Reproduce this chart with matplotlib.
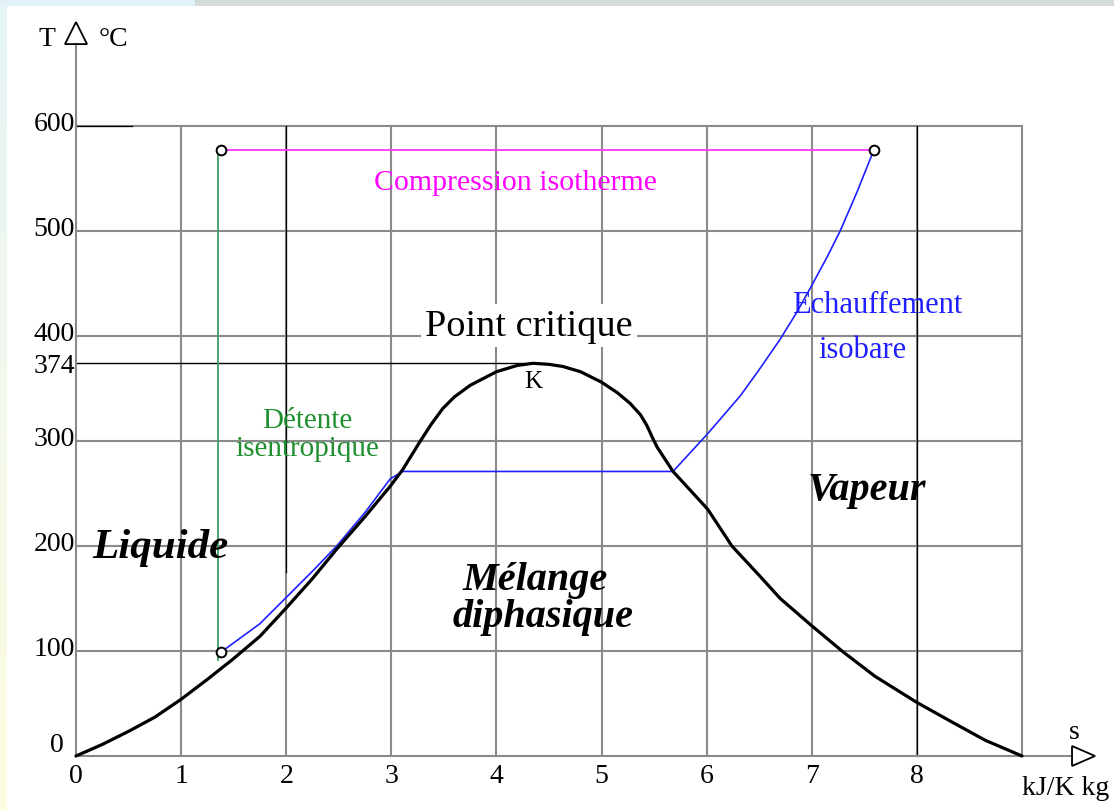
import numpy as np
import matplotlib
matplotlib.use("Agg")
import matplotlib.pyplot as plt
from matplotlib.patches import Polygon

# saturation dome of water, s [kJ/K kg] vs T [degC]
dome_s = [0, 0.25, 0.51, 0.75, 1.0, 1.25, 1.49, 1.75, 2.0, 2.25, 2.48, 2.75, 2.99, 3.11,
          3.27, 3.38, 3.49, 3.6, 3.75, 4.0, 4.2, 4.35, 4.5, 4.63, 4.8, 5.0, 5.15, 5.27,
          5.37, 5.43, 5.49, 5.53, 5.68, 6.01, 6.24, 6.5, 6.7, 7.0, 7.3, 7.6, 8.0, 8.34, 8.65, 9.0]
dome_T = [0, 11, 24, 37, 54, 73, 92, 114, 141, 169, 197, 228, 257, 273,
          299, 316, 331, 342, 353, 366, 372, 374, 373, 371, 366, 356, 346, 336,
          325, 315, 302, 294, 271, 235, 200, 172, 150, 124, 99, 76, 51, 32, 15, 0]

# isobaric heating: liquid -> boiling -> superheated vapour
isobar_s = [1.38, 1.75, 2.0, 2.25, 2.48, 2.75, 2.99, 3.11, 5.68, 6.01, 6.32, 6.5, 6.7,
            6.86, 7.01, 7.15, 7.27, 7.43, 7.55, 7.59]
isobar_T = [99, 126, 151, 176, 200, 232, 264, 271, 271, 307, 343, 368, 397,
            423, 450, 476, 500, 537, 567, 577]

# isothermal compression and isentropic expansion closing the cycle
iso_T = 577
iso_s = [1.38, 7.59]
detente_s = 1.35
detente_T = [91, 577]
cycle_pts_s = [1.38, 1.38, 7.59]
cycle_pts_T = [99, 577, 577]

T_crit = 374
s_crit = 4.35

s_ticks = [0, 1, 2, 3, 4, 5, 6, 7, 8]
T_ticks = [100, 200, 300, 400, 500, 600]
T_labels = ["100", "200", "300", "400", "500", "600"]

GREY = "#8a8a8a"
SERIF = ["Liberation Serif", "DejaVu Serif"]

fig = plt.figure(figsize=(11.14, 8.12), dpi=100)

# slide border: thin tinted strips on the left and top
bg = np.ones((812, 1114, 3))
grad = np.linspace(0, 1, 812)[:, None, None]
bg[:, :7] = (1 - grad) * np.array([0.90, 0.96, 0.97]) + grad * np.array([1.0, 0.99, 0.88])
bg[:7, :] = np.array([0.83, 0.86, 0.86])
bg[:7, :195] = np.array([0.89, 0.95, 0.97])
bg_ax = fig.add_axes([0, 0, 1, 1], zorder=-2)
bg_ax.imshow(bg, aspect="auto", interpolation="nearest")
bg_ax.set_axis_off()

ax = fig.add_axes([0, 0, 1, 1])
ax.patch.set_alpha(0)
ax.set_xlim(-76 / 105.11, (1114 - 76) / 105.11)
ax.set_ylim(-55 / 1.05, 757 / 1.05)
ax.set_axis_off()

# grid
for s in range(1, 10):
    ax.plot([s, s], [0, 600], color=GREY, lw=1.5, zorder=1)
for T in T_ticks:
    ax.plot([0, 9], [T, T], color=GREY, lw=1.5, zorder=1)
ax.plot([2, 2], [175, 600], color="black", lw=0.9, zorder=1.5)
ax.plot([8, 8], [0, 600], color="black", lw=0.9, zorder=1.5)
ax.plot([0, 0.53], [600, 600], color="black", lw=0.9, zorder=1.5)
ax.plot([0, s_crit], [T_crit, T_crit], color="black", lw=1.0, zorder=1.5)

# axes with open arrow heads
ax.plot([0, 0], [0, 678], color=GREY, lw=1.5, zorder=2)
ax.plot([0, 9.476], [0, 0], color=GREY, lw=1.5, zorder=2)
ax.add_patch(Polygon([[-0.105, 678], [0.105, 678], [0, 699]], closed=True,
                     fill=False, edgecolor="black", lw=1.3, zorder=3))
ax.add_patch(Polygon([[9.476, -9.5], [9.476, 9.5], [9.695, 0]], closed=True,
                     fill=False, edgecolor="black", lw=1.3, zorder=3))

# cycle
ax.plot(iso_s, [iso_T, iso_T], color="#ff33ff", lw=1.3, zorder=3)
ax.plot([detente_s, detente_s], detente_T, color="#3f9f5f", lw=1.3, zorder=3)
ax.plot(isobar_s, isobar_T, color="#2020ff", lw=1.2, zorder=3)
ax.plot(dome_s, dome_T, color="black", lw=2.3, zorder=4, solid_capstyle="round")
ax.plot(cycle_pts_s, cycle_pts_T, ls="none", marker="o", ms=7, mfc="white",
        mec="black", mew=1.4, zorder=5)

# tick labels
for s in s_ticks:
    ax.text(s, -19, str(s), ha="center", va="center", fontsize=20, family=SERIF)
for T, lbl in zip(T_ticks, T_labels):
    ax.text(-0.01, T + 2, lbl, ha="right", va="center", fontsize=20, family=SERIF)
ax.text(-0.01, T_crit - 2, str(T_crit), ha="right", va="center", fontsize=20, family=SERIF)
ax.text(-0.12, 11, "0", ha="right", va="center", fontsize=20, family=SERIF)

ax.text(-0.28, 683, "T", ha="center", va="center", fontsize=20, family=SERIF)
ax.text(0.36, 683, "°C", ha="center", va="center", fontsize=20, family=SERIF)
ax.text(9.5, 23, "s", ha="center", va="center", fontsize=20, family=SERIF)
ax.text(9.0, -30, "kJ/K kg", ha="left", va="center", fontsize=20, family=SERIF)

# annotations
ax.text(4.18, 547, "Compression isotherme", color="#ff00ff", ha="center", va="center",
        fontsize=21.5, family=SERIF)
ax.text(2.2, 320, "Détente", color="#1f8f2f", ha="center", va="center",
        fontsize=21, family=SERIF)
ax.text(2.2, 293, "isentropique", color="#1f8f2f", ha="center", va="center",
        fontsize=21, family=SERIF)
ax.text(7.62, 430, "Echauffement", color="#1f1fff", ha="center", va="center",
        fontsize=22, family=SERIF)
ax.text(7.48, 387, "isobare", color="#1f1fff", ha="center", va="center",
        fontsize=22, family=SERIF)
ax.text(4.31, 410, "Point critique", ha="center", va="center", fontsize=27.5, family=SERIF,
        bbox=dict(facecolor="white", edgecolor="none", pad=3), zorder=6)
ax.text(4.35, 357, "K", ha="center", va="center", fontsize=18, family=SERIF)

script = dict(ha="center", va="center", fontsize=29, family=SERIF, style="italic",
              weight="bold", zorder=6)
ax.text(0.8, 199, "Liquide", **dict(script, fontsize=31))
ax.text(4.37, 168, "Mélange", **script)
ax.text(4.44, 133, "diphasique", **script)
ax.text(7.52, 254, "Vapeur", **script)

fig.savefig("out.png", dpi=100)
